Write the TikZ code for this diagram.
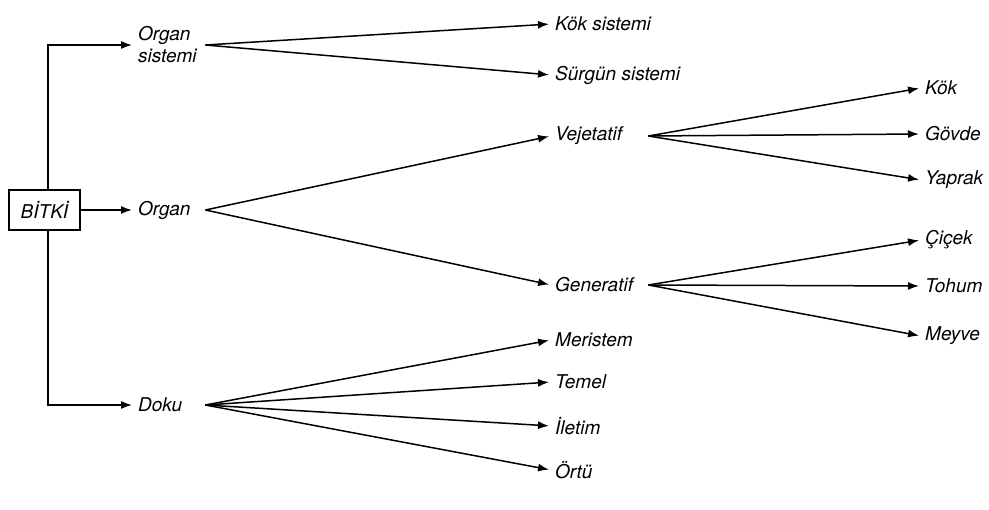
\documentclass[tikz,border=0pt]{standalone}
\usepackage{fontspec}
\setmainfont{TeX Gyre Heros}
\usetikzlibrary{arrows.meta, positioning}

\begin{document}
\begin{tikzpicture}[x=1pt, y=-1pt,
    every node/.style={font=\fontsize{19}{22}\selectfont\itshape, inner sep=4pt},
    link/.style={-{Latex[length=11pt, width=8pt]}, line width=1.5pt, shorten >=2pt},
    hub/.style={anchor=west, text width=63pt, align=left},
    leaf/.style={anchor=west}]
    \useasboundingbox (0,0) rectangle (989,510);
    % kok
    \node[draw, line width=1.5pt, minimum width=71pt, minimum height=40pt, inner sep=0pt] (bitki) at (44.5,210) {BİTKİ};
    % birinci duzey
    \node[hub] (orgsis) at (134,45) {Organ\\sistemi};
    \node[hub] (organ) at (134,210) {Organ};
    \node[hub] (doku) at (134,405) {Doku};
    \draw[link] ([xshift=3.5pt]bitki.north) |- (orgsis.west);
    \draw[link] (bitki.east) -- (organ.west);
    \draw[link] ([xshift=3.5pt]bitki.south) |- (doku.west);
    % ikinci duzey
    \node[leaf] (koksis) at (551,24) {Kök sistemi};
    \node[leaf] (surgun) at (551,75) {Sürgün sistemi};
    \node[hub, text width=89pt] (vejet) at (551,136) {Vejetatif};
    \node[hub, text width=89pt] (generat) at (551,285) {Generatif};
    \node[leaf] (merist) at (551,340) {Meristem};
    \node[leaf] (temel) at (551,382) {Temel};
    \node[leaf] (iletim) at (551,426) {İletim};
    \node[leaf] (ortu) at (551,470) {Örtü};
    \foreach \t in {koksis, surgun} \draw[link] (orgsis.east) -- (\t.west);
    \foreach \t in {vejet, generat} \draw[link] (organ.east) -- (\t.west);
    \foreach \t in {merist, temel, iletim, ortu} \draw[link] (doku.east) -- (\t.west);
    % ucuncu duzey
    \node[leaf] (kok) at (921,88) {Kök};
    \node[leaf] (govde) at (921,134) {Gövde};
    \node[leaf] (yaprak) at (921,180) {Yaprak};
    \node[leaf] (cicek) at (921,240) {Çiçek};
    \node[leaf] (tohum) at (921,286) {Tohum};
    \node[leaf] (meyve) at (921,336) {Meyve};
    \foreach \t in {kok, govde, yaprak} \draw[link] (vejet.east) -- (\t.west);
    \foreach \t in {cicek, tohum, meyve} \draw[link] (generat.east) -- (\t.west);
\end{tikzpicture}
\end{document}
